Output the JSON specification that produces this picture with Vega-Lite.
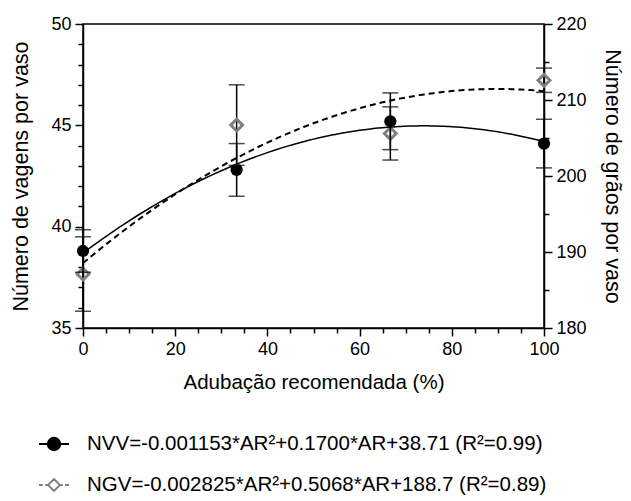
{
  "$schema": "https://vega.github.io/schema/vega-lite/v6.json",
  "width": 461,
  "height": 304,
  "autosize": {"type": "none"},
  "padding": {"left": 83, "top": 24, "right": 87, "bottom": 173},
  "background": "white",
  "config": {
    "font": "Liberation Sans",
    "view": {"stroke": "black", "strokeWidth": 1.5},
    "axis": {
      "domainColor": "black", "tickColor": "black", "labelColor": "black", "titleColor": "black",
      "grid": false, "labelFontSize": 18, "titleFontSize": 20.5, "titleFontWeight": "normal",
      "domainWidth": 1.5, "tickWidth": 1.5, "labelOverlap": false, "labelFlush": false
    },
    "axisY": {"titleFontSize": 21.5}
  },
  "datasets": {
    "pts": [
      {"AR": 0, "NVV": 38.8, "NVV_lo": 37.75, "NVV_hi": 39.85, "NGV": 187.1, "NGV_lo": 182.2, "NGV_hi": 192.0},
      {"AR": 33.33, "NVV": 42.8, "NVV_lo": 41.5, "NVV_hi": 44.1, "NGV": 206.7, "NGV_lo": 201.4, "NGV_hi": 212.0},
      {"AR": 66.67, "NVV": 45.2, "NVV_lo": 43.8, "NVV_hi": 46.6, "NGV": 205.6, "NGV_lo": 202.1, "NGV_hi": 209.1},
      {"AR": 100, "NVV": 44.1, "NVV_lo": 42.9, "NVV_hi": 45.3, "NGV": 212.6, "NGV_lo": 211.0, "NGV_hi": 214.2}
    ],
    "leg": [{"series": "NVV"}, {"series": "NGV"}]
  },
  "data": {"name": "pts"},
  "encoding": {
    "x": {
      "field": "AR", "type": "quantitative",
      "scale": {"domain": [0, 100], "nice": false, "zero": false},
      "axis": {
        "title": "Adubação recomendada (%)",
        "values": [0,5,10,15,20,25,30,35,40,45,50,55,60,65,70,75,80,85,90,95,100],
        "labelExpr": "datum.value % 20 === 0 ? datum.label : ''",
        "tickSize": {"condition": {"test": "datum.value % 20 === 0", "value": 8}, "value": 5},
        "labelPadding": 4,
        "titlePadding": 14
      }
    }
  },
  "layer": [
    {
      "layer": [
        {
          "mark": {"type": "rule", "color": "black", "strokeWidth": 1.5},
          "encoding": {
            "y": {"field": "NGV_lo", "type": "quantitative", "scale": {"domain": [180, 220], "nice": false, "zero": false},
              "axis": {"orient": "right", "title": "Número de grãos por vaso", "values": [180,185,190,195,200,205,210,215,220], "labelExpr": "datum.value % 10 === 0 ? datum.label : ''", "tickSize": {"condition": {"test": "datum.value % 10 === 0", "value": 8}, "value": 5}, "labelPadding": 4, "titlePadding": 14, "labelOverlap": false}},
            "y2": {"field": "NGV_hi"}
          }
        },
        {
          "mark": {"type": "tick", "orient": "horizontal", "color": "black", "size": 16, "thickness": 1.5},
          "encoding": {"y": {"field": "NGV_lo", "type": "quantitative", "scale": {"domain": [180, 220], "nice": false, "zero": false},
              "axis": {"orient": "right", "title": "Número de grãos por vaso", "values": [180,185,190,195,200,205,210,215,220], "labelExpr": "datum.value % 10 === 0 ? datum.label : ''", "tickSize": {"condition": {"test": "datum.value % 10 === 0", "value": 8}, "value": 5}, "labelPadding": 4, "titlePadding": 14, "labelOverlap": false}}}
        },
        {
          "mark": {"type": "tick", "orient": "horizontal", "color": "black", "size": 16, "thickness": 1.5},
          "encoding": {"y": {"field": "NGV_hi", "type": "quantitative", "scale": {"domain": [180, 220], "nice": false, "zero": false},
              "axis": {"orient": "right", "title": "Número de grãos por vaso", "values": [180,185,190,195,200,205,210,215,220], "labelExpr": "datum.value % 10 === 0 ? datum.label : ''", "tickSize": {"condition": {"test": "datum.value % 10 === 0", "value": 8}, "value": 5}, "labelPadding": 4, "titlePadding": 14, "labelOverlap": false}}}
        },
        {
          "transform": [{"regression": "NGV", "on": "AR", "method": "poly", "order": 2, "extent": [0, 100]}],
          "mark": {"type": "line", "color": "black", "strokeWidth": 2, "strokeDash": [6, 4]},
          "encoding": {"y": {"field": "NGV", "type": "quantitative", "scale": {"domain": [180, 220], "nice": false, "zero": false},
              "axis": {"orient": "right", "title": "Número de grãos por vaso", "values": [180,185,190,195,200,205,210,215,220], "labelExpr": "datum.value % 10 === 0 ? datum.label : ''", "tickSize": {"condition": {"test": "datum.value % 10 === 0", "value": 8}, "value": 5}, "labelPadding": 4, "titlePadding": 14, "labelOverlap": false}}}
        },
        {
          "mark": {"type": "point", "shape": "diamond", "filled": false, "color": "#7f7f7f", "strokeWidth": 3, "size": 140, "opacity": 1},
          "encoding": {"y": {"field": "NGV", "type": "quantitative", "scale": {"domain": [180, 220], "nice": false, "zero": false},
              "axis": {"orient": "right", "title": "Número de grãos por vaso", "values": [180,185,190,195,200,205,210,215,220], "labelExpr": "datum.value % 10 === 0 ? datum.label : ''", "tickSize": {"condition": {"test": "datum.value % 10 === 0", "value": 8}, "value": 5}, "labelPadding": 4, "titlePadding": 14, "labelOverlap": false}}}
        }
      ]
    },
    {
      "layer": [
        {
          "mark": {"type": "rule", "color": "black", "strokeWidth": 1.5},
          "encoding": {
            "y": {"field": "NVV_lo", "type": "quantitative", "scale": {"domain": [35, 50], "nice": false, "zero": false},
              "axis": {"orient": "left", "title": "Número de vagens por vaso", "values": [35,36,37,38,39,40,41,42,43,44,45,46,47,48,49,50], "labelExpr": "datum.value % 5 === 0 ? datum.label : ''", "tickSize": {"condition": {"test": "datum.value % 5 === 0", "value": 8}, "value": 5}, "labelPadding": 4, "titlePadding": 18, "labelOverlap": false}},
            "y2": {"field": "NVV_hi"}
          }
        },
        {
          "mark": {"type": "tick", "orient": "horizontal", "color": "black", "size": 16, "thickness": 1.5},
          "encoding": {"y": {"field": "NVV_lo", "type": "quantitative", "scale": {"domain": [35, 50], "nice": false, "zero": false},
              "axis": {"orient": "left", "title": "Número de vagens por vaso", "values": [35,36,37,38,39,40,41,42,43,44,45,46,47,48,49,50], "labelExpr": "datum.value % 5 === 0 ? datum.label : ''", "tickSize": {"condition": {"test": "datum.value % 5 === 0", "value": 8}, "value": 5}, "labelPadding": 4, "titlePadding": 18, "labelOverlap": false}}}
        },
        {
          "mark": {"type": "tick", "orient": "horizontal", "color": "black", "size": 16, "thickness": 1.5},
          "encoding": {"y": {"field": "NVV_hi", "type": "quantitative", "scale": {"domain": [35, 50], "nice": false, "zero": false},
              "axis": {"orient": "left", "title": "Número de vagens por vaso", "values": [35,36,37,38,39,40,41,42,43,44,45,46,47,48,49,50], "labelExpr": "datum.value % 5 === 0 ? datum.label : ''", "tickSize": {"condition": {"test": "datum.value % 5 === 0", "value": 8}, "value": 5}, "labelPadding": 4, "titlePadding": 18, "labelOverlap": false}}}
        },
        {
          "transform": [{"regression": "NVV", "on": "AR", "method": "poly", "order": 2, "extent": [0, 100]}],
          "mark": {"type": "line", "color": "black", "strokeWidth": 1.5},
          "encoding": {"y": {"field": "NVV", "type": "quantitative", "scale": {"domain": [35, 50], "nice": false, "zero": false},
              "axis": {"orient": "left", "title": "Número de vagens por vaso", "values": [35,36,37,38,39,40,41,42,43,44,45,46,47,48,49,50], "labelExpr": "datum.value % 5 === 0 ? datum.label : ''", "tickSize": {"condition": {"test": "datum.value % 5 === 0", "value": 8}, "value": 5}, "labelPadding": 4, "titlePadding": 18, "labelOverlap": false}}}
        },
        {
          "mark": {"type": "point", "shape": "circle", "filled": true, "color": "black", "size": 150, "opacity": 1},
          "encoding": {"y": {"field": "NVV", "type": "quantitative", "scale": {"domain": [35, 50], "nice": false, "zero": false},
              "axis": {"orient": "left", "title": "Número de vagens por vaso", "values": [35,36,37,38,39,40,41,42,43,44,45,46,47,48,49,50], "labelExpr": "datum.value % 5 === 0 ? datum.label : ''", "tickSize": {"condition": {"test": "datum.value % 5 === 0", "value": 8}, "value": 5}, "labelPadding": 4, "titlePadding": 18, "labelOverlap": false}}}
        },
        {
          "data": {"name": "leg"},
          "mark": {"type": "point", "opacity": 0},
          "encoding": {
            "x": {"value": 0},
            "y": {"value": 0},
            "shape": {
              "field": "series", "type": "nominal",
              "scale": {
                "domain": ["NVV", "NGV"],
                "range": [
                  "M-1,0H1M0.42,0A0.42,0.42,0,1,1,-0.42,0A0.42,0.42,0,1,1,0.42,0Z",
                  "M-1,0H-0.74M-0.58,0H-0.42M0.42,0H0.58M0.74,0H1M0,-0.4L0.4,0L0,0.4L-0.4,0Z"
                ]
              },
              "legend": {
                "title": null, "orient": "none", "legendX": -45, "legendY": 404, "direction": "vertical",
                "symbolSize": 900, "symbolStrokeWidth": 1.8, "symbolOpacity": 1,
                "labelFontSize": 20.5, "labelOffset": 17, "rowPadding": 14, "padding": 0, "labelLimit": 0,
                "labelColor": "black", "labelFont": "Liberation Sans",
                "labelExpr": "datum.label === 'NVV' ? 'NVV=-0.001153*AR²+0.1700*AR+38.71 (R²=0.99)' : 'NGV=-0.002825*AR²+0.5068*AR+188.7 (R²=0.89)'"
              }
            },
            "fill": {
              "field": "series", "type": "nominal",
              "scale": {"domain": ["NVV", "NGV"], "range": ["black", "white"]}
            },
            "stroke": {
              "field": "series", "type": "nominal",
              "scale": {"domain": ["NVV", "NGV"], "range": ["black", "#7f7f7f"]}
            }
          }
        }
      ]
    }
  ],
  "resolve": {"scale": {"y": "independent"}}
}
